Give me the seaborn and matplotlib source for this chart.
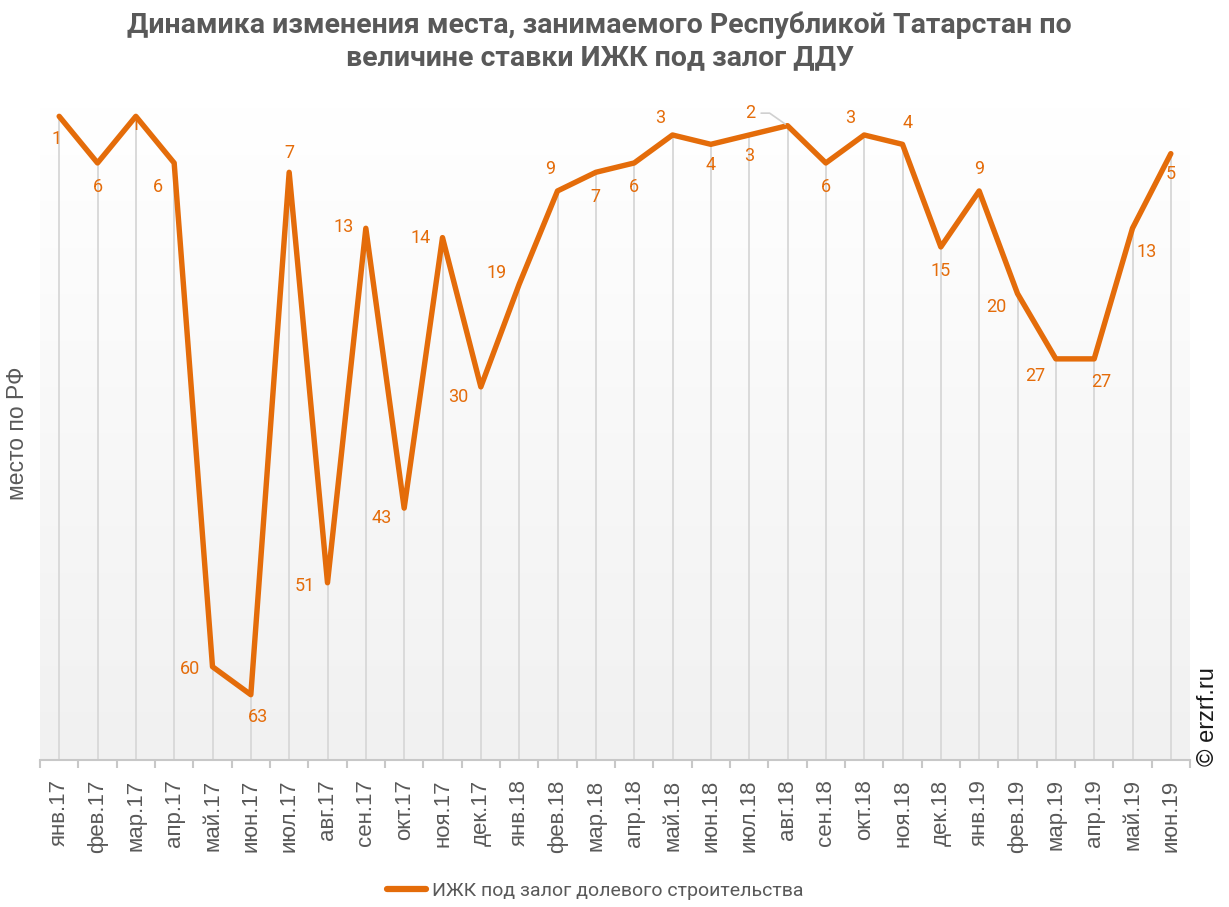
import numpy as np
import matplotlib
matplotlib.use("Agg")
import matplotlib.pyplot as plt
import seaborn as sns
import pandas as pd

months = ["янв.17", "фев.17", "мар.17", "апр.17", "май.17", "июн.17", "июл.17", "авг.17",
          "сен.17", "окт.17", "ноя.17", "дек.17", "янв.18", "фев.18", "мар.18", "апр.18",
          "май.18", "июн.18", "июл.18", "авг.18", "сен.18", "окт.18", "ноя.18", "дек.18",
          "янв.19", "фев.19", "мар.19", "апр.19", "май.19", "июн.19"]
rank = [1, 6, 1, 6, 60, 63, 7, 51, 13, 43, 14, 30, 19, 9, 7, 6,
        3, 4, 3, 2, 6, 3, 4, 15, 9, 20, 27, 27, 13, 5]
series_name = "ИЖК под залог долевого строительства"
title = "Динамика изменения места, занимаемого Республикой Татарстан по\nвеличине ставки ИЖК под залог ДДУ"

# label offsets in points (dx, dy), screen coordinates
label_offsets = [(-2, -16), (0, -17), (0, -6), (-12, -17), (-16, -2), (5, -16), (0, 14), (-16, -2),
                 (-16, 1), (-16, -7), (-16, 0), (-16, -7), (-16, 8), (-5, 16), (0, -18), (0, -17),
                 (-9, 12), (0, -15), (0, -15), (-27, 9), (0, -17), (-10, 12), (4, 15), (0, -17),
                 (0, 16), (-15, -10), (-15, -12), (5, -17), (10, -17), (0, -15)]

ORANGE = "#E46C0A"
GREY_TXT = "#595959"

sns.set_theme(style="white")
plt.rcParams["font.family"] = ["Liberation Sans", "DejaVu Sans"]

fig = plt.figure(figsize=(12.29, 9.07), dpi=100)
ax = fig.add_axes([40 / 1229, 147 / 907, 1150 / 1229, 653 / 907])

df = pd.DataFrame({"idx": np.arange(len(months)), "rank": rank})
y_bottom, y_top = 70, 0

# soft vertical gradient in the plot area
grad = np.linspace(0, 1, 256).reshape(-1, 1)
top_c = np.array([1.0, 1.0, 1.0])
bot_c = np.array([0xF1, 0xF1, 0xF1]) / 255
img = top_c + (bot_c - top_c) * grad[..., None] * np.ones((1, 1, 3))
ax.imshow(img, extent=(-0.5, len(months) - 0.5, y_bottom, y_top), aspect="auto", zorder=0)

# drop lines from every point to the axis
ax.vlines(df["idx"], df["rank"], y_bottom, color="#dadada", lw=1.4, zorder=1)

sns.lineplot(data=df, x="idx", y="rank", ax=ax, color=ORANGE, lw=3.9, zorder=3,
             label=series_name, solid_joinstyle="round", solid_capstyle="round")

for i, (v, off) in enumerate(zip(rank, label_offsets)):
    kw = dict(textcoords="offset points", ha="center", va="center", color=ORANGE,
              fontsize=13, family="Roboto", zorder=4)
    if months[i] == "авг.18":
        # label lifted off the line with a thin leader
        kw["arrowprops"] = dict(arrowstyle="-", color="#d0d0d0", lw=1.2, shrinkA=2, shrinkB=2,
                                connectionstyle="angle,angleA=0,angleB=145,rad=0")
    ax.annotate(str(v), xy=(i, v), xytext=off, **kw)

ax.set_xlim(-0.5, len(months) - 0.5)
ax.set_ylim(y_bottom, y_top)
ax.set_xticks(np.arange(len(months)))
ax.set_xticklabels(months, rotation=90, fontsize=16, color=GREY_TXT)
ax.set_xticks(np.arange(len(months) + 1) - 0.5, minor=True)
ax.tick_params(axis="x", which="major", length=0, pad=14)
ax.tick_params(axis="x", which="minor", length=6, width=1.5, color="#c8c8c8", bottom=True)
ax.set_yticks([])
ax.set_xlabel("")
ax.set_ylabel("место по РФ", fontsize=16.5, color=GREY_TXT, labelpad=8)
for s in ["top", "right", "left"]:
    ax.spines[s].set_visible(False)
ax.spines["bottom"].set_color("#c8c8c8")
ax.spines["bottom"].set_linewidth(1.5)

fig.suptitle(title, x=0.488, y=0.987, fontsize=20.5, fontweight="bold", color=GREY_TXT,
             family="Roboto", linespacing=1.25)

leg = ax.legend(loc="center", bbox_to_anchor=(0.483, -0.2), bbox_transform=ax.transAxes,
                frameon=False, prop={"family": "Roboto", "size": 14},
                handlelength=2.0, handletextpad=0.3)
for t in leg.get_texts():
    t.set_color(GREY_TXT)
for h in leg.get_lines():
    h.set_linewidth(4.5)

fig.text(1208 / 1229, 1 - 766 / 907, "© erzrf.ru", rotation=90, ha="center", va="bottom",
         fontsize=17, color="#1a1a1a")

fig.savefig("out.png", dpi=100, facecolor="white")
